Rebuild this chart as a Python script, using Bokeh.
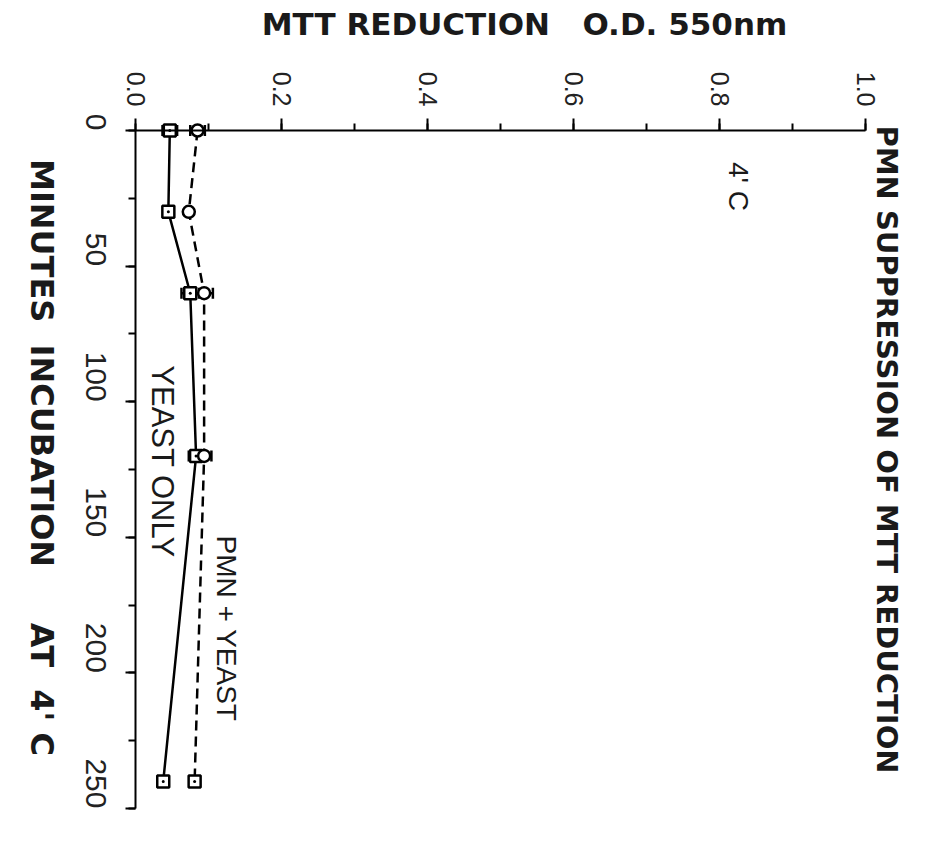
import math
from bokeh.plotting import figure
from bokeh.models import (Range1d, Label, Whisker, ColumnDataSource, FixedTicker,
                          TeeHead, LinearAxis)
from bokeh.embed import file_html
from bokeh.resources import INLINE

# ---- data ----
minutes = [0, 30, 60, 120, 240]
yeast_only = [0.047, 0.045, 0.075, 0.083, 0.038]
yeast_only_err = [0.010, 0.003, 0.012, 0.010, 0.004]
pmn_yeast = [0.085, 0.073, 0.094, 0.094, 0.081]
pmn_yeast_err = [0.010, 0.003, 0.012, 0.010, 0.006]
pmn_markers = ["circle", "circle", "circle", "circle", "square_dot"]

od_ticks = [0.0, 0.2, 0.4, 0.6, 0.8, 1.0]
od_minor = [0.0, 0.1, 0.2, 0.3, 0.4, 0.5, 0.6, 0.7, 0.8, 0.9, 1.0]
min_ticks = [0, 50, 100, 150, 200, 250]
min_minor = [0, 25, 50, 75, 100, 125, 150, 175, 200, 225, 250]

NB = "\u00a0"
W, H = 922, 830
X0, XS = 135, 730.0      # pixel of OD 0 and pixels per OD unit
Y0, YS = 130, 678 / 250  # pixel of 0 min and pixels per minute

p = figure(output_backend="svg", toolbar_location=None,
           width=W, height=H, min_border=0,
           x_range=Range1d(-X0 / XS, (W - X0) / XS),
           y_range=Range1d((H - Y0) / YS, -Y0 / YS),
           x_axis_type=None, y_axis_type=None)
p.outline_line_color = None
p.grid.visible = False
p.background_fill_color = "white"

# axes drawn at fixed locations
xa = LinearAxis(fixed_location=0, bounds=(0, 1.0),
                ticker=FixedTicker(ticks=od_ticks, minor_ticks=od_minor))
xa.major_label_overrides = {t: f"{t:.1f}" for t in od_ticks}
xa.major_label_orientation = -math.pi / 2
xa.major_label_text_font = "Liberation Sans"
xa.major_label_text_font_size = "25px"
xa.major_label_text_color = "#222222"
xa.major_label_standoff = 12
xa.major_tick_out = 12
xa.major_tick_in = 0
xa.minor_tick_out = 7
xa.minor_tick_in = 0
xa.axis_line_width = 2
xa.major_tick_line_width = 2
xa.minor_tick_line_width = 2
p.add_layout(xa, "above")

ya = LinearAxis(fixed_location=0, bounds=(0, 250),
                ticker=FixedTicker(ticks=min_ticks, minor_ticks=min_minor))
ya.major_label_orientation = -math.pi / 2
ya.major_label_text_font = "Liberation Sans"
ya.major_label_text_font_size = "30px"
ya.major_label_text_color = "#222222"
ya.major_label_standoff = 30
ya.major_tick_out = 10
ya.major_tick_in = 0
ya.minor_tick_out = 7
ya.minor_tick_in = 0
ya.axis_line_width = 2
ya.major_tick_line_width = 2
ya.minor_tick_line_width = 2
p.add_layout(ya, "left")

# data sources
src_y = ColumnDataSource(dict(t=minutes, v=yeast_only,
                              lo=[a - b for a, b in zip(yeast_only, yeast_only_err)],
                              hi=[a + b for a, b in zip(yeast_only, yeast_only_err)]))
src_p = ColumnDataSource(dict(t=minutes, v=pmn_yeast, m=pmn_markers,
                              lo=[a - b for a, b in zip(pmn_yeast, pmn_yeast_err)],
                              hi=[a + b for a, b in zip(pmn_yeast, pmn_yeast_err)]))

p.line("v", "t", source=src_y, line_color="black", line_width=2.5)
p.line("v", "t", source=src_p, line_color="black", line_width=2.5, line_dash="10 6")

for src in (src_y, src_p):
    w = Whisker(base="t", lower="lo", upper="hi", source=src, dimension="width",
                line_width=2.5, line_color="black",
                upper_head=TeeHead(size=11, line_width=2.5),
                lower_head=TeeHead(size=11, line_width=2.5))
    p.add_layout(w)

p.scatter("v", "t", source=src_y, marker="square_dot", size=12,
          fill_color="white", line_color="black", line_width=2.5)
p.scatter("v", "t", source=src_p, marker="m", size=12,
          fill_color="white", line_color="black", line_width=2.5)

# texts
def lab(px, py, text, size, bold=False, font="Liberation Sans", angle=-math.pi / 2):
    p.add_layout(Label(x=(px - X0) / XS, y=(py - Y0) / YS, text=text, angle=angle,
                       text_font=font, text_font_size=size,
                       text_font_style="bold" if bold else "normal",
                       text_align="center", text_baseline="middle",
                       text_color="#1a1a1a"))

lab(738, 186, "4' C", "28px")
lab(162, 461, "YEAST ONLY", "31px")
lab(226, 628, "PMN + YEAST", "28px")
lab(886, 449, "PMN SUPPRESSION OF MTT REDUCTION", "29px", bold=True, font="DejaVu Sans")
lab(41, 457, f"MINUTES{NB*2}INCUBATION{NB*5}AT{NB*2}4' C", "32px", bold=True, font="DejaVu Sans")
lab(524, 23, f"MTT REDUCTION{NB*3}O.D. 550nm", "31px", bold=True, font="DejaVu Sans", angle=0)

open("out.html", "w").write(file_html(p, INLINE))
